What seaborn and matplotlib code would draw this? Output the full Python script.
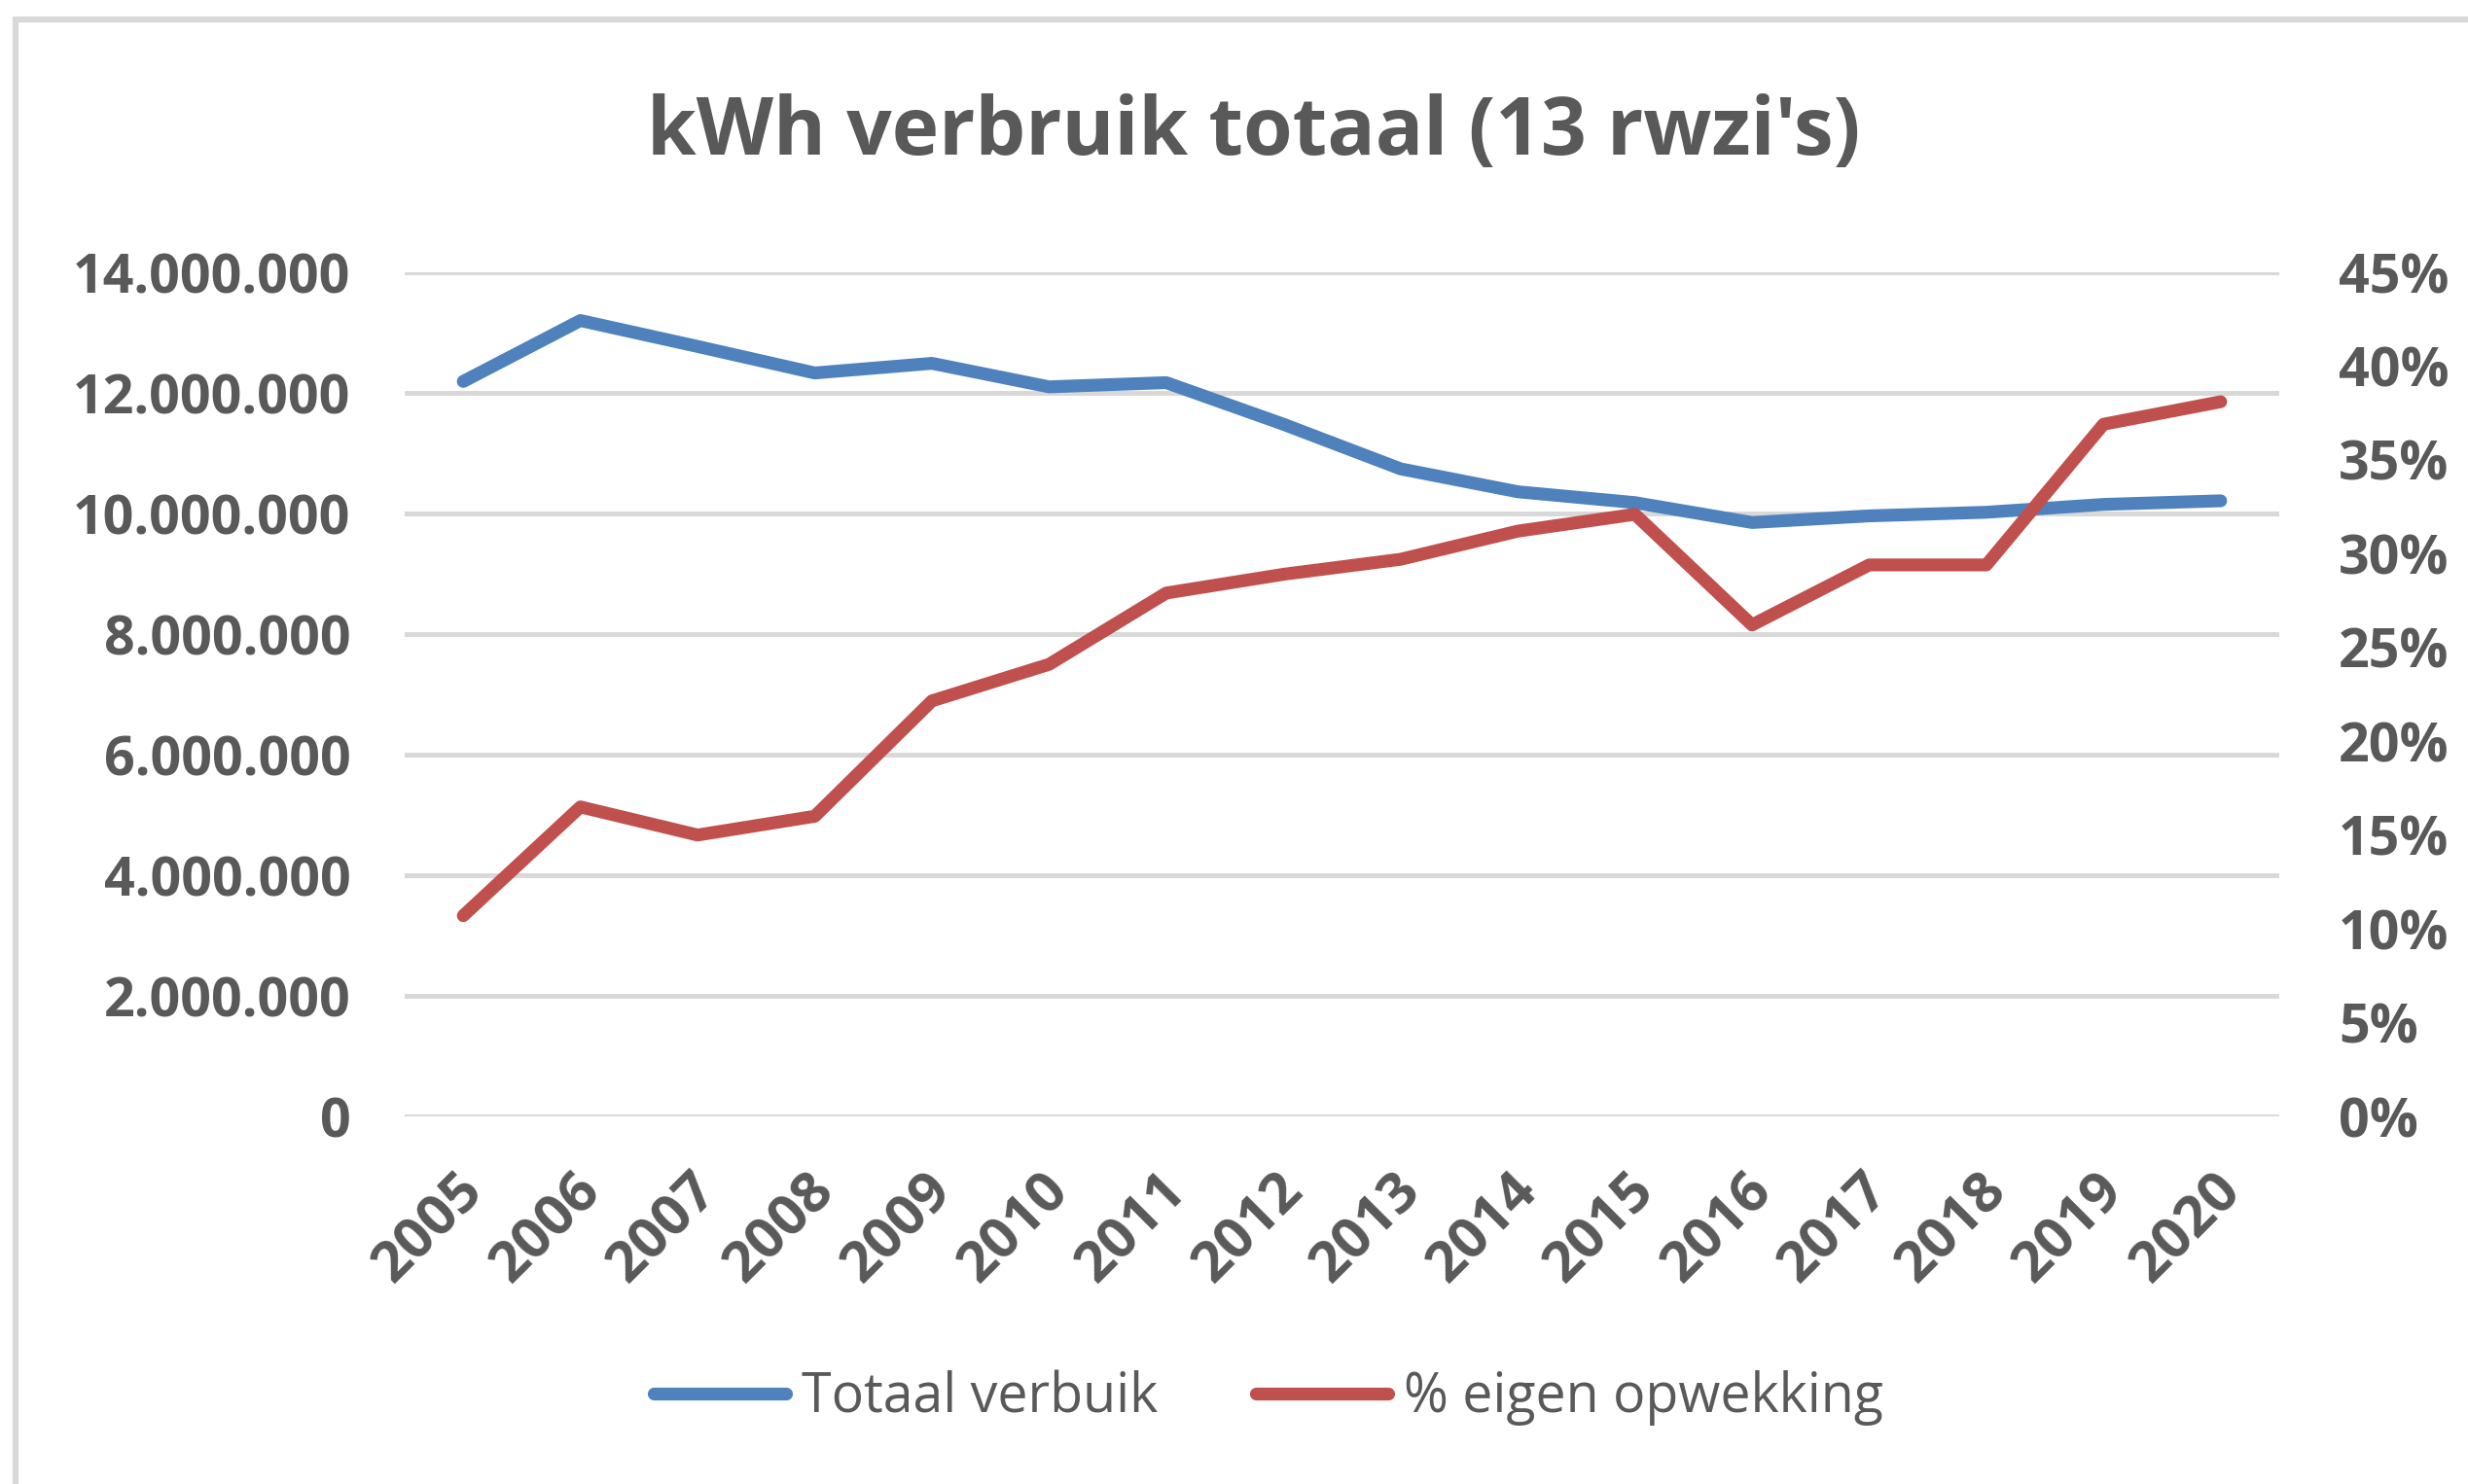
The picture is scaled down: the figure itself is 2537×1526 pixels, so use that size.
import pandas as pd
import seaborn as sns
import matplotlib.pyplot as plt
import matplotlib.transforms as mtransforms
from matplotlib.ticker import FuncFormatter, MultipleLocator
from matplotlib.lines import Line2D
from matplotlib.patches import Rectangle

jaren = ["2005", "2006", "2007", "2008", "2009", "2010", "2011", "2012",
         "2013", "2014", "2015", "2016", "2017", "2018", "2019", "2020"]
totaal_verbruik = [12190000, 13200000, 12770000, 12330000, 12490000, 12100000,
                   12170000, 11480000, 10740000, 10360000, 10180000, 9850000,
                   9960000, 10020000, 10150000, 10210000]
eigen_opwekking = [0.107, 0.165, 0.150, 0.160, 0.2215, 0.241, 0.279, 0.289,
                   0.297, 0.312, 0.321, 0.262, 0.294, 0.294, 0.369, 0.381]

blauw = "#4f81bd"
rood = "#c0504d"
grijs = "#595959"
raster = "#d9d9d9"

sns.set_style("white")
plt.rcParams['font.family'] = ['Open Sans', 'DejaVu Sans']

df = pd.DataFrame({"jaar": jaren, "totaal": totaal_verbruik, "eigen": eigen_opwekking})

W, H = 2537, 1526
fig = plt.figure(figsize=(W / 100, H / 100), dpi=100)
ax = fig.add_axes([416 / W, 1 - 1148 / H, (2343 - 416) / W, (1148 - 280) / H])
ax2 = ax.twinx()

sns.lineplot(data=df, x="jaar", y="totaal", ax=ax, color=blauw, lw=9.5, sort=False,
             solid_capstyle="round", solid_joinstyle="round")
sns.lineplot(data=df, x="jaar", y="eigen", ax=ax2, color=rood, lw=9.5, sort=False,
             solid_capstyle="round", solid_joinstyle="round")

ax.set_xlim(-0.5, len(jaren) - 0.5)
ax.set_ylim(0, 14000000)
ax2.set_ylim(0, 0.45)
ax.yaxis.set_major_locator(MultipleLocator(2000000))
ax2.yaxis.set_major_locator(MultipleLocator(0.05))
ax.yaxis.set_major_formatter(FuncFormatter(lambda v, p: f"{int(v):,}".replace(",", ".")))
ax2.yaxis.set_major_formatter(FuncFormatter(lambda v, p: f"{round(v * 100)}%"))

ax.grid(axis="y", color=raster, lw=3.6)
ax.grid(axis="x", visible=False)
ax2.grid(False)
ax.set_axisbelow(True)
for a in (ax, ax2):
    for s in a.spines.values():
        s.set_visible(False)
    a.set_xlabel("")
    a.set_ylabel("")

ax.tick_params(axis="y", length=0, pad=40, labelsize=40, labelcolor=grijs)
ax2.tick_params(axis="y", length=0, pad=44, labelsize=40, labelcolor=grijs)
ax.tick_params(axis="x", length=0, pad=49, labelsize=42, labelcolor=grijs)
for lbl in ax.get_yticklabels() + ax2.get_yticklabels():
    lbl.set_fontweight("bold")
verschuif = mtransforms.ScaledTranslation(0.12, 0, fig.dpi_scale_trans)
for lbl in ax.get_xticklabels():
    lbl.set_fontweight("bold")
    lbl.set_rotation(45)
    lbl.set_ha("right")
    lbl.set_rotation_mode("anchor")
    lbl.set_va("center")
    lbl.set_transform(lbl.get_transform() + verschuif)

fig.text(0.508, 1 - 138 / H, "kWh verbruik totaal (13 rwzi's)", ha="center", va="center",
         fontsize=59, fontweight="bold", color=grijs)

handles = [Line2D([], [], color=blauw, lw=9.5, solid_capstyle="round"),
           Line2D([], [], color=rood, lw=9.5, solid_capstyle="round")]
fig.legend(handles, ["Totaal verbuik", "% eigen opwekking"], loc="center",
           bbox_to_anchor=(0.514, 1 - 1438 / H), ncol=2, frameon=False,
           fontsize=40, labelcolor=grijs, handlelength=2.45, handletextpad=0.3,
           columnspacing=1.8)

fig.patches.append(Rectangle((16 / W, -0.1), 1.2, (H - 20) / H + 0.1,
                             transform=fig.transFigure, fill=False,
                             edgecolor=raster, lw=4.5))

fig.savefig("out.png", dpi=100, facecolor="white")
